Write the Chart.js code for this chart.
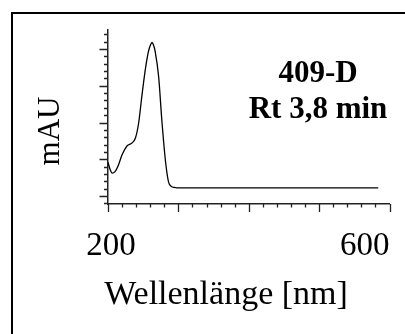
<!DOCTYPE html>
<html>
<head>
<meta charset="utf-8">
<script src="https://cdn.jsdelivr.net/npm/chart.js@4.4.0/dist/chart.umd.min.js"></script>
<style>
  html, body { margin: 0; padding: 0; background: #fff; }
  #wrap { width: 405px; height: 334px; }
</style>
</head>
<body>
<div id="wrap"><canvas id="uvChart"></canvas></div>
<script>
// spectrum (wavelength in nm, absorbance in arbitrary mAU)
const wavelengths = [200, 203, 206, 210, 214, 220, 227, 234, 239, 243.5, 248, 253, 257.5, 260.5, 262.5, 264.5, 267, 272, 276.5, 281.5, 286, 290, 294, 298, 584];
const absorbance  = [46,  36,  31,  33,  40,  56,  68,  72,  79,  99,   135, 172, 197,  206,   209,   206,   197, 162, 103,  49,   19,  13,  11.5, 11, 11];

const xMajorTicks = [200, 300, 400, 500, 600];
const xMinorStep = 20;
const yMajorTicks = [0, 50, 100, 150, 200];
const yMinorStep = 10;
const tickLabels = ['200', '600'];

const xTitle = 'Wellenlänge [nm]';
const yTitle = 'mAU';
const sampleLines = ['409-D', 'Rt 3,8 min'];

// draws frame, tick marks and the texts from the chart's own scales
const decorations = {
    id: 'decorations',
    afterDraw(chart) {
        const ctx = chart.ctx;
        const xs = chart.scales.x;
        const ys = chart.scales.y;
        const area = chart.chartArea;
        ctx.save();

        // outer frame (right and bottom run off the picture)
        ctx.strokeStyle = '#000';
        ctx.lineWidth = 2;
        ctx.strokeRect(12, 13, 420, 340);

        // tick marks
        ctx.strokeStyle = '#222';
        ctx.lineWidth = 1.3;
        ctx.beginPath();
        for (let v = xs.min; v <= xs.max; v += xMinorStep) {
            const px = Math.round(xs.getPixelForValue(v)) + 0.5;
            const len = xMajorTicks.includes(v) ? 8 : 3.5;
            ctx.moveTo(px, area.bottom);
            ctx.lineTo(px, area.bottom + len);
        }
        for (let v = -10; v <= ys.max; v += yMinorStep) {
            const py = Math.round(ys.getPixelForValue(v)) + 0.5;
            const len = yMajorTicks.includes(v) ? 8.5 : 4;
            ctx.moveTo(area.left, py);
            ctx.lineTo(area.left - len, py);
        }
        ctx.stroke();

        // tick labels
        ctx.fillStyle = '#000';
        ctx.textBaseline = 'alphabetic';
        ctx.font = '33px "Liberation Serif"';
        ctx.textAlign = 'center';
        ctx.fillText(tickLabels[0], xs.getPixelForValue(200) + 3, 255);
        ctx.textAlign = 'right';
        ctx.fillText(tickLabels[1], xs.getPixelForValue(600), 255);

        // axis titles
        ctx.textAlign = 'center';
        ctx.font = '34px "Liberation Serif"';
        ctx.fillText(xTitle, 226, 304);
        ctx.save();
        ctx.translate(59, 131);
        ctx.rotate(-Math.PI / 2);
        ctx.font = '31px "Liberation Serif"';
        ctx.fillText(yTitle, 0, 0);
        ctx.restore();

        // sample annotation
        ctx.font = 'bold 31px "Liberation Serif"';
        ctx.fillText(sampleLines[0], 318, 82);
        ctx.fillText(sampleLines[1], 318, 118);

        ctx.restore();
    }
};

const ctx = document.getElementById('uvChart').getContext('2d');
const uvChart = new Chart(ctx, {
    type: 'line',
    data: {
        datasets: [{
            data: wavelengths.map((w, i) => ({ x: w, y: absorbance[i] })),
            borderColor: '#000',
            borderWidth: 1.3,
            pointRadius: 0,
            fill: false,
            cubicInterpolationMode: 'monotone'
        }]
    },
    options: {
        responsive: true,
        maintainAspectRatio: false,
        animation: false,
        layout: { padding: { left: 108, right: 15.5, top: 30, bottom: 130 } },
        plugins: { legend: { display: false }, tooltip: { enabled: false } },
        scales: {
            x: {
                type: 'linear',
                min: 200,
                max: 600,
                ticks: { display: false },
                grid: { display: false },
                border: { display: true, color: '#222', width: 1.5 },
                afterFit: s => { s.height = 0; }
            },
            y: {
                min: -11,
                max: 226,
                ticks: { display: false },
                grid: { display: false },
                border: { display: true, color: '#222', width: 1.5 },
                afterFit: s => { s.width = 0; }
            }
        }
    },
    plugins: [decorations]
});
</script>
</body>
</html>
